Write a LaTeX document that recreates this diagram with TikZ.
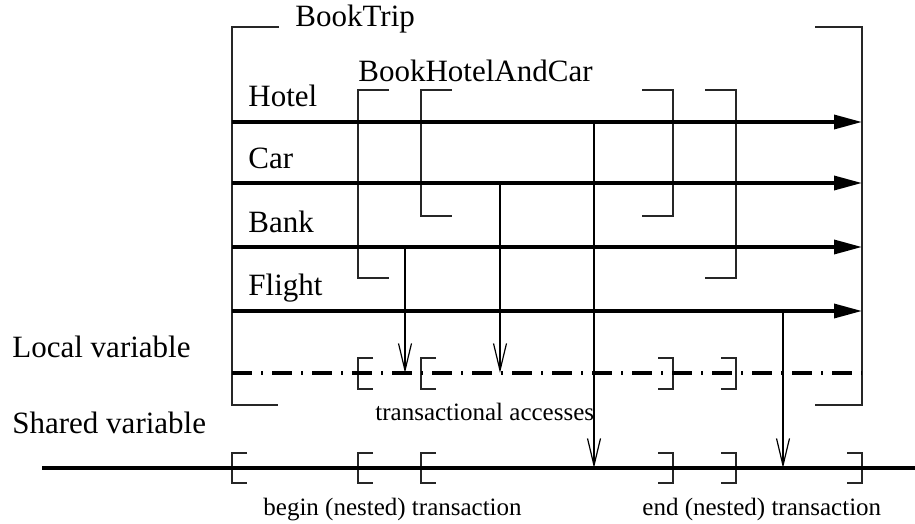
\documentclass[tikz,border=0pt]{standalone}
\usepackage{fontspec}
\setmainfont{Liberation Serif}
\usetikzlibrary{arrows.meta}
\begin{document}
\begin{tikzpicture}[x=0.5pt,y=-0.5pt,
  lbl/.style={anchor=base west,inner sep=0pt,font=\fontsize{15.5pt}{18pt}\selectfont},
  small/.style={anchor=base west,inner sep=0pt,font=\fontsize{12.5pt}{15pt}\selectfont},
  brk/.style={line width=0.7pt,black!85},
  lane/.style={line width=1.7pt,-{Triangle[length=14pt,width=7pt]}},
  access/.style={line width=0.6pt,-{Straight Barb[length=13.5pt,width=6.5pt,line width=0.6pt]}},
  localvar/.style={line width=1.7pt,dash pattern=on 10pt off 4.5pt on 1pt off 4.5pt},
  sharedvar/.style={line width=1.7pt}]
\useasboundingbox (0,0) rectangle (915,524);
% labels
\node[lbl] (booktrip) at (295,27) {BookTrip};
\node[lbl] (bhac) at (358,82) {BookHotelAndCar};
\node[lbl] (hotel) at (248,107) {Hotel};
\node[lbl] (car) at (248,169) {Car};
\node[lbl] (bank) at (248,232) {Bank};
\node[lbl] (flight) at (248,295) {Flight};
\node[lbl] (localv) at (12,357) {Local variable};
\node[lbl] (sharedv) at (12,433) {Shared variable};
\node[small] (tacc) at (375,420) {transactional accesses};
\node[small] (beginT) at (263,515) {begin (nested) transaction};
\node[small] (endT) at (642,515) {end (nested) transaction};
% big brackets
\draw[brk] (279,27) -- (232,27) -- (232,405) -- (278,405);
\draw[brk] (815,27) -- (862,27) -- (862,405) -- (815,405);
\draw[brk] (389,90) -- (358,90) -- (358,278) -- (389,278);
\draw[brk] (705,90) -- (736,90) -- (736,278) -- (705,278);
\draw[brk] (452,90) -- (421,90) -- (421,216) -- (452,216);
\draw[brk] (642,90) -- (673,90) -- (673,216) -- (642,216);
% small brackets on local variable
\foreach \bx in {358,421}{\draw[brk] (\bx+15,358) -- (\bx,358) -- (\bx,389) -- (\bx+15,389);}
\foreach \bx in {673,736}{\draw[brk] (\bx-15,358) -- (\bx,358) -- (\bx,389) -- (\bx-15,389);}
% small brackets on shared variable
\foreach \bx in {232,358,421}{\draw[brk] (\bx+15,453) -- (\bx,453) -- (\bx,483) -- (\bx+15,483);}
\foreach \bx in {673,736,862}{\draw[brk] (\bx-15,453) -- (\bx,453) -- (\bx,483) -- (\bx-15,483);}
% lanes
\coordinate (hL) at (232,122); \coordinate (hR) at (862,122);
\coordinate (cL) at (232,183); \coordinate (cR) at (862,183);
\coordinate (bL) at (232,247); \coordinate (bR) at (862,247);
\coordinate (fL) at (232,311); \coordinate (fR) at (862,311);
\coordinate (lL) at (232,373); \coordinate (lR) at (862,373);
\coordinate (sL) at (42,468);  \coordinate (sR) at (915,468);
\draw[lane] (hL) -- (hR);
\draw[lane] (cL) -- (cR);
\draw[lane] (bL) -- (bR);
\draw[lane] (fL) -- (fR);
\draw[localvar] (lL) -- (lR);
\draw[sharedvar] (sL) -- (sR);
% accesses
\coordinate (a1s) at (405,247); \coordinate (a1t) at (405,373);
\coordinate (a2s) at (500,183); \coordinate (a2t) at (500,373);
\coordinate (a3s) at (594,122); \coordinate (a3t) at (594,468);
\coordinate (a4s) at (783,311); \coordinate (a4t) at (783,468);
\draw[access] (a1s) -- (a1t);
\draw[access] (a2s) -- (a2t);
\draw[access] (a3s) -- (a3t);
\draw[access] (a4s) -- (a4t);
\end{tikzpicture}
\end{document}
